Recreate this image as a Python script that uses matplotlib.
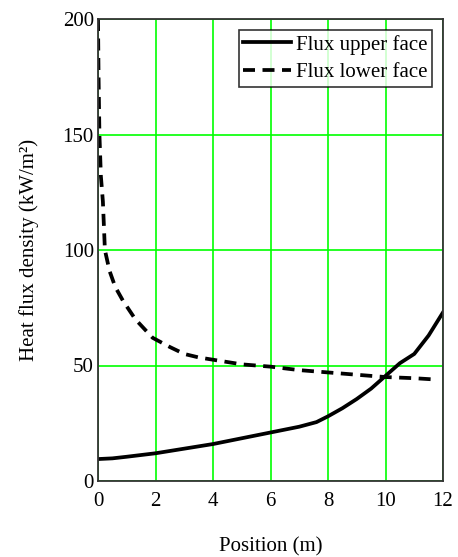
import numpy as np
import matplotlib
matplotlib.use("Agg")
import matplotlib.pyplot as plt

# values
pos_upper = [0, 0.5, 1, 2, 3, 4, 5, 6, 7, 7.6, 8, 8.5, 9, 9.5, 10, 10.5, 11, 11.5, 12]
flux_upper = [9.5, 9.8, 10.5, 12, 14, 16, 18.5, 21, 23.5, 25.5, 28, 31.5, 35.5, 40, 45.5, 51, 55, 63, 73]

pos_lower = [0, 0.02, 0.05, 0.1, 0.17, 0.24, 0.4, 0.6, 0.87, 1.3, 1.9, 2.5, 3, 3.5, 4, 5, 6, 7, 8, 9, 10, 11, 11.65]
flux_lower = [200, 175, 150, 132, 121, 100, 91, 84, 78, 70, 62, 58, 55, 53.5, 52.5, 50.5, 49.5, 48, 47, 46, 45, 44.5, 44]

plt.rcParams['font.family'] = ['Liberation Serif', 'DejaVu Serif']

fig = plt.figure(figsize=(4.58, 5.57), dpi=100)
ax = fig.add_axes([98/458, 1 - 481/557, 345/458, 462/557])

ax.plot(pos_upper, flux_upper, color="black", linewidth=2.7, label="Flux upper face")
ax.plot(pos_lower, flux_lower, color="black", linewidth=2.7, linestyle=(0, (3.2, 2)), label="Flux lower face")

ax.set_xlim(0, 12)
ax.set_ylim(0, 200)
ax.set_xticks(np.arange(0, 13, 2))
ax.set_yticks(np.arange(0, 201, 50))
ax.grid(True, color="#00ff00", linewidth=1.2)
ax.set_axisbelow(True)
ax.tick_params(length=0, labelsize=15)
ax.tick_params(axis="x", pad=8)
ax.tick_params(axis="y", pad=3)
for s in ax.spines.values():
    s.set_linewidth(1.3)
    s.set_color("#333333")

ax.set_xlabel("Position (m)", fontsize=15, labelpad=19)
ax.set_ylabel("Heat flux density (kW/m\u00b2)", fontsize=15, labelpad=17)

leg = ax.legend(loc="upper right", fontsize=15, frameon=True, fancybox=False,
                edgecolor="black", handlelength=2.3, handletextpad=0.25,
                borderpad=0.2, labelspacing=0.4, borderaxespad=0.55)
leg.get_frame().set_linewidth(1.2)

fig.savefig("out.png", dpi=100)
